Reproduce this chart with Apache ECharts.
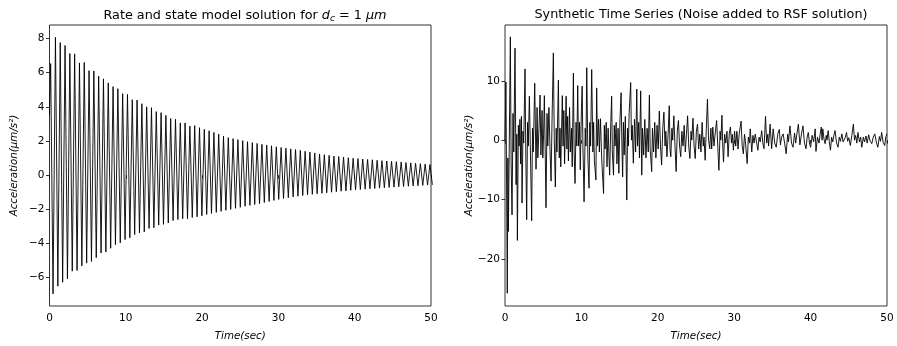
<!DOCTYPE html>
<html><head><meta charset="utf-8">
<script src="https://cdn.jsdelivr.net/npm/echarts@6/dist/echarts.min.js"></script>
<style>html,body{margin:0;padding:0;background:#fff}#c{width:897px;height:346px}</style>
</head><body><div id="c"></div>
<script>
// ---- Left panel: RSF solution, read as successive cycle peaks and troughs ----
const rsfFirstPeakTime = 0.15;   // s
const rsfPeriod = 0.6293;        // s, spacing between successive peaks
const rsfStart = [0, 3.5];
const rsfPeaks = [6.53,8.07,7.76,7.59,7.12,7.10,6.57,6.60,6.12,6.10,5.80,5.64,5.40,5.18,5.06,4.77,4.73,4.42,4.40,4.18,
  4.00,3.95,3.72,3.66,3.50,3.31,3.27,3.06,3.06,2.87,2.90,2.78,2.68,2.60,2.50,2.40,2.28,2.20,2.14,2.08,
  2.02,1.96,1.90,1.86,1.80,1.76,1.72,1.66,1.62,1.58,1.54,1.50,1.45,1.40,1.35,1.30,1.24,1.20,1.16,1.12,
  1.09,1.06,1.02,0.99,0.97,0.94,0.92,0.90,0.87,0.85,0.83,0.81,0.79,0.77,0.74,0.72,0.70,0.67,0.65,0.62];
const rsfTroughs = [-6.95,-6.50,-6.27,-6.08,-5.62,-5.58,-5.31,-5.15,-5.05,-4.83,-4.56,-4.50,-4.28,-4.07,-3.96,-3.77,-3.67,-3.48,-3.38,-3.32,
  -3.12,-3.08,-2.92,-2.88,-2.80,-2.66,-2.60,-2.55,-2.56,-2.48,-2.44,-2.38,-2.30,-2.24,-2.18,-2.12,-2.06,-2.00,-1.94,-1.88,
  -1.82,-1.77,-1.72,-1.67,-1.60,-1.54,-1.48,-1.42,-1.37,-1.32,-1.27,-1.23,-1.19,-1.16,-1.12,-1.09,-1.06,-1.03,-1.00,-0.97,
  -0.94,-0.92,-0.89,-0.86,-0.84,-0.82,-0.80,-0.78,-0.76,-0.74,-0.72,-0.70,-0.68,-0.67,-0.65,-0.63,-0.62,-0.60,-0.58,-0.57];

// ---- Right panel: synthetic (noisy) series ----
const noisyT = [0,0.12,0.3,0.38,0.44,0.55,0.7,0.8,0.92,1.05,1.15,1.31,1.45,1.55,1.62,1.75,1.85,1.95,2.05,2.15,2.23,2.35,2.45,2.62,2.72,2.84,2.95,3.05,3.19,3.3,3.49,3.6,3.7,3.89,4.06,4.2,4.3,4.45,4.59,4.7,4.85,4.95,5.05,5.15,5.25,5.37,5.5,5.6,5.75,5.9,6.03,6.15,6.33,6.45,6.59,6.7,6.8,6.99,7.1,7.2,7.3,7.5,7.6,7.7,7.8,8.0,8.1,8.2,8.3,8.45,8.55,8.7,8.8,8.95,9.05,9.17,9.3,9.4,9.52,9.62,9.75,9.85,10.0,
  10.1,10.2,10.35,10.5,10.6,10.7,10.85,11.0,11.1,11.2,11.35,11.5,11.6,11.7,11.9,12.0,12.1,12.25,12.35,12.5,12.65,12.9,13.0,13.1,13.25,13.35,13.5,13.6,13.7,13.85,13.96,14.05,14.2,14.3,14.4,14.55,14.65,14.8,14.9,15.05,15.2,15.3,15.4,15.5,15.6,15.75,15.94,16.05,16.15,16.25,16.45,16.55,16.65,16.8,16.95,17.1,17.25,17.35,17.5,17.6,17.76,17.9,18.0,18.15,18.3,18.45,18.6,18.75,18.9,19.0,19.2,19.3,19.45,19.6,19.75,19.9,20.05,20.2,20.35,20.5,
  20.65,20.8,20.95,21.05,21.2,21.35,21.5,21.6,21.7,21.85,21.95,22.1,22.25,22.4,22.55,22.7,22.85,23.0,23.15,23.3,23.45,23.6,23.75,23.9,24.05,24.2,24.35,24.45,24.6,24.75,24.9,25.05,25.2,25.35,25.5,25.65,25.8,25.95,26.05,26.2,26.35,26.5,26.65,26.8,26.95,27.05,27.2,27.35,27.5,27.7,27.85,28.0,28.15,28.25,28.4,28.5,28.6,28.75,28.9,29.05,29.2,29.35,29.5,29.65,29.75,29.9,30.05,30.2,30.35,30.5,30.65,30.9,31.05,31.2,
  31.35,31.45,31.7,31.85,32.0,32.1,32.3,32.45,32.6,32.75,32.9,33.1,33.25,33.4,33.6,33.75,33.9,34.1,34.25,34.4,34.5,34.7,34.9,35.1,35.3,35.5,35.7,35.9,36.05,36.2,36.4,36.6,36.8,37.0,37.1,37.3,37.5,37.7,37.9,38.05,38.2,38.4,38.6,38.8,39.0,39.2,39.4,39.55,39.7,39.85,40.0,40.2,40.4,40.6,40.7,40.9,41.1,41.25,41.4,
  41.5,41.6,41.75,41.9,42.05,42.15,42.3,42.45,42.6,42.75,42.9,43.05,43.2,43.4,43.6,43.75,43.9,44.1,44.25,44.4,44.55,44.7,44.85,45.0,45.2,45.4,45.6,45.75,45.9,46.05,46.2,46.4,46.55,46.7,46.9,47.05,47.25,47.4,47.6,47.8,48.0,48.2,48.4,48.6,48.8,49.0,49.15,49.3,49.5,49.7,49.85,50.0];
const noisyV = [0,9.8,-25.8,-3,-15.4,-2,17.4,-3.5,-12.6,4.5,-2,15.5,-7.5,1,-16.9,2.5,-1,3.5,-4,4,-10.6,1.5,-0.5,12.0,-2,-13.4,3,-1,7.4,0,-13.6,2,-2,9.6,-4.9,5.5,-3,2,7.6,-2.5,5,-3,1,7.5,-1,-11.4,4.5,-1,5.5,-2,-6.9,3,14.7,0,-7.9,2,-2,10.1,-3,2,-4.5,7.5,-1,5,-4,7.4,-1.5,4,-3.5,5.5,-2,2,-4.5,11.3,-2,-7.3,3,-1,9.2,-1,3,-5,5,
  9.1,-1,-10.4,2,-1,12.2,-3,-8.1,3,-1,11.9,-2,3,-3.5,-6.7,8.8,-1,3.5,-2,3.6,-3,-9.0,2.5,-1.5,3,-4.5,2,-2.5,-5.9,3,7.4,-2,-5.9,2.5,-1,3,-4,2,-5.6,3.5,8.0,-1,-6.2,3,-2.5,4,-10.1,2,-1,4.5,9.7,0,2.5,-3.9,3.5,-2,8.6,-1,3,-3,8.3,-5.9,2,-2.5,3.5,-3,2,-2,7.6,-1.5,-5.3,2,-2,3,-3,2.5,-1.5,4.9,-1,-4.2,
  2,4.7,-1,1.5,-2.8,1,5.8,-1.5,-2.8,2,0,4.1,-1,-5.3,1.5,3.3,-1,-2.8,1.5,-1,2.5,-2,1,4.1,-1,-3.1,1.5,0,3.7,-1,-3.1,1.5,2.7,-1.5,1,-2,3.0,-1,0.5,-3.4,2,6.9,0,-1.45,2,-1.5,2.2,-1,1,3.3,-1,-5.1,1.5,0,4.2,-1,-3.7,1,-0.5,1.5,-2.8,1,2.2,-0.5,1,-1.7,1.5,-1,1.5,-1.5,1,3.2,-1,-2.3,
  1,0,-3.95,0.5,-0.5,1.9,-2.0,0.8,-0.5,1,1.3,-1.7,0.5,-0.3,1.6,-0.5,-1.45,4.0,-0.5,1,-1,2.7,-1.45,1.9,-0.5,-1.2,1,1.8,-0.8,0.5,1.05,-0.5,-2.3,1,-0.3,2.4,-0.5,-1.2,1.2,-0.5,1,2.7,-0.8,1,2.4,-0.5,-1.45,0.5,1.3,-0.5,-1.2,0.8,-0.3,1.9,-1.9,0.5,-0.5,1,2.2,
  0,1.9,0.2,-0.6,0.8,0,1.6,-0.3,-1.7,0.5,-0.3,0.8,1.6,-0.5,-1.2,0.5,-0.2,1.05,-0.3,-0.6,0.5,1.3,-0.2,0.4,-0.9,0.8,2.7,0,0.8,-0.5,1.3,-0.3,0.5,-1.2,0.5,-0.3,0.7,-0.5,0.9,-0.2,-0.6,0.5,1.05,-0.3,-1.2,0.6,-0.2,1.3,-0.4,-0.9,0.6,1.05];

const xTicks = [0,10,20,30,40,50];
const leftYTicks = [-6,-4,-2,0,2,4,6,8];
const rightYTicks = [-20,-10,0,10];

// build series data from the arrays above
const rsfData = [rsfStart];
for (let i = 0; i < rsfPeaks.length; i++) {
  const tp = rsfFirstPeakTime + i * rsfPeriod;
  rsfData.push([tp, rsfPeaks[i]]);
  rsfData.push([tp + rsfPeriod / 2, rsfTroughs[i]]);
}
const noisyData = noisyT.map((t, i) => [t, noisyV[i]]);

const FONT = 'DejaVu Sans';
function xAxisCfg(idx) {
  return {
    gridIndex: idx, type: 'value', min: 0, max: 50,
    name: 'Time(sec)', nameLocation: 'middle', nameGap: 25,
    nameTextStyle: {fontFamily: FONT, fontStyle: 'italic', fontSize: 10.3, color: '#000'},
    axisLine: {show: false},
    axisTick: {show: true, inside: false, length: 3.5, customValues: xTicks, lineStyle: {color: '#000', width: 0.8}},
    axisLabel: {fontFamily: FONT, fontSize: 10.5, color: '#000', margin: 7, customValues: xTicks},
    splitLine: {show: false}
  };
}
function yAxisCfg(idx, min, max, ticks) {
  return {
    gridIndex: idx, type: 'value', min: min, max: max,
    name: 'Acceleration(μm/s²)', nameLocation: 'middle', nameGap: 30,
    nameTextStyle: {fontFamily: FONT, fontStyle: 'italic', fontSize: 10.3, color: '#000'},
    axisLine: {show: false},
    axisTick: {show: true, inside: false, length: 3.5, customValues: ticks, lineStyle: {color: '#000', width: 0.8}},
    axisLabel: {fontFamily: FONT, fontSize: 10.5, color: '#000', margin: 5, customValues: ticks,
      formatter: v => (v < 0 ? '\u2212' + Math.abs(v) : String(v))},
    splitLine: {show: false}
  };
}

const chart = echarts.init(document.getElementById('c'), null, {renderer: 'canvas'});
chart.setOption({
  animation: false,
  backgroundColor: '#fff',
  title: [
    {text: 'Rate and state model solution for {i|d}{s|c}{n| = 1 }{i|μm}', left: 240, top: 3, textAlign: 'center',
      textStyle: {fontFamily: FONT, fontSize: 12.8, fontWeight: 'normal', color: '#000',
        rich: {i: {fontFamily: FONT, fontStyle: 'italic', fontSize: 12.8, color: '#000'},
               s: {fontFamily: FONT, fontStyle: 'italic', fontSize: 9, color: '#000', verticalAlign: 'bottom', padding: [6, 0, 0, 0]},
               n: {fontFamily: FONT, fontSize: 12.8, color: '#000'}}}},
    {text: 'Synthetic Time Series (Noise added to RSF solution)', left: 696, top: 3, textAlign: 'center',
      textStyle: {fontFamily: FONT, fontSize: 12.8, fontWeight: 'normal', color: '#000'}}
  ],
  grid: [
    {left: 49.5, top: 25, width: 381.5, height: 284, show: true, borderColor: '#333', borderWidth: 1, backgroundColor: 'transparent', containLabel: false},
    {left: 505, top: 25, width: 382, height: 284, show: true, borderColor: '#333', borderWidth: 1, backgroundColor: 'transparent', containLabel: false}
  ],
  xAxis: [xAxisCfg(0), xAxisCfg(1)],
  yAxis: [yAxisCfg(0, -7.66, 8.79, leftYTicks), yAxisCfg(1, -27.95, 19.4, rightYTicks)],
  series: [
    {type: 'line', xAxisIndex: 0, yAxisIndex: 0, data: rsfData, showSymbol: false, clip: true,
      lineStyle: {color: '#000', width: 0.9}},
    {type: 'line', xAxisIndex: 1, yAxisIndex: 1, data: noisyData, showSymbol: false, clip: true,
      lineStyle: {color: '#000', width: 0.9}}
  ]
});
</script></body></html>
